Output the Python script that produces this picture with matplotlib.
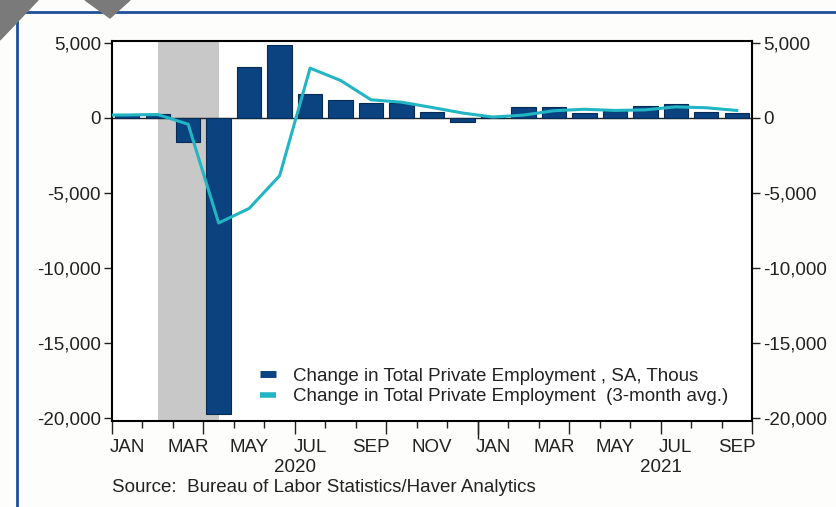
"""Private payroll changes, Jan 2020 - Sep 2021, monthly bars plus 3-month average."""

import matplotlib.pyplot as plt
from matplotlib.lines import Line2D
from matplotlib.patches import Polygon

plt.rcParams["font.family"] = ["Liberation Sans", "DejaVu Sans"]

# Monthly change in total private employment, SA, thousands (Jan 2020 .. Sep 2021)
months = ["JAN", "FEB", "MAR", "APR", "MAY", "JUN", "JUL", "AUG", "SEP", "OCT", "NOV", "DEC",
          "JAN", "FEB", "MAR", "APR", "MAY", "JUN", "JUL", "AUG", "SEP"]
private_chg = [200, 280, -1630, -19730, 3370, 4840, 1600, 1170, 970, 980, 400, -290,
               150, 700, 760, 330, 490, 810, 920, 370, 360]

# 3-month average, starting one month earlier (Dec 2019) so the line runs in from the edge
avg_3m = [190, 200, 230, -420, -7000, -6030, -3850, 3320, 2500, 1210, 1050, 700, 330,
          60, 190, 480, 580, 500, 540, 740, 680, 500]

years = ["2020", "2021"]

BAR = "#0b4280"
BAR_EDGE = "#072a52"
LINE = "#22b5c4"
FRAME = "#1d4f9a"
TXT = "#222222"
FS = 13.5

n = len(months)
x = list(range(n))
x_avg = list(range(-1, n))

fig = plt.figure(figsize=(8.37, 5.07), dpi=100, facecolor="#fdfdfb")

# outer page frame and the grey corner marks
fig.add_artist(Line2D([17 / 837, 1], [1 - 12 / 507] * 2, color=FRAME, lw=2))
fig.add_artist(Line2D([17 / 837] * 2, [0, 1 - 12 / 507], color=FRAME, lw=2))
fig.add_artist(Polygon([(0, 1), (38 / 837, 1), (0, 1 - 40 / 507)],
                       closed=True, color="#7a7a7a", zorder=5))
fig.add_artist(Polygon([(85 / 837, 1), (130 / 837, 1), (110 / 837, 1 - 18 / 507)],
                       closed=True, color="#7a7a7a", zorder=5))

ax = fig.add_axes([112 / 837, 1 - 421 / 507, 640 / 837, 380 / 507])
ax.set_facecolor("white")

# recession shading, Feb to Apr 2020
ax.axvspan(months.index("FEB"), months.index("APR"), color="#c8c8c8", lw=0, zorder=0)
ax.axhline(0, color=TXT, lw=1, zorder=1)

ax.bar(x, private_chg, width=0.8, color=BAR, edgecolor=BAR_EDGE, lw=0.8, zorder=2)
ax.plot(x_avg, avg_3m, color=LINE, lw=2.2, zorder=3, solid_joinstyle="round")

ax.set_xlim(-0.5, n - 0.5)
ax.set_ylim(-20200, 5130)

for s in ax.spines.values():
    s.set_linewidth(1.5)
    s.set_color("black")

# y axis: same scale on both sides
yt = [5000, 0, -5000, -10000, -15000, -20000]
ax.set_yticks(yt)
ax.set_yticklabels([f"{v:,}" for v in yt])
ax.tick_params(axis="y", which="both", left=True, right=True, labelleft=True,
               labelright=True, direction="out", length=6, width=1, labelsize=FS,
               colors=TXT, pad=2)

# x axis: month boundaries, longer ticks at quarter starts
bounds = [i - 0.5 for i in range(n + 1)]
ax.set_xticks([b for i, b in enumerate(bounds) if i % 3 == 0])
ax.set_xticks([b for i, b in enumerate(bounds) if i % 3 != 0], minor=True)
ax.set_xticklabels([])
ax.tick_params(axis="x", which="major", direction="out", length=9, width=1, color=TXT)
ax.tick_params(axis="x", which="minor", direction="out", length=5, width=1, color=TXT)

# year boundary tick
yr_ax = ax.secondary_xaxis("bottom")
yr_ax.set_xticks([11.5])
yr_ax.set_xticklabels([])
yr_ax.tick_params(direction="out", length=13, width=1, color=TXT)
yr_ax.spines["bottom"].set_visible(False)

# month labels centred in each month, every other month
mon_ax = ax.secondary_xaxis("bottom")
mon_ax.set_xticks(x[::2])
mon_ax.set_xticklabels(months[::2])
mon_ax.tick_params(length=0, pad=13, labelsize=FS, colors=TXT)
mon_ax.spines["bottom"].set_visible(False)

# year labels centred in each calendar year
year_ax = ax.secondary_xaxis("bottom")
year_ax.set_xticks([5.5, 17.5])
year_ax.set_xticklabels(years)
year_ax.tick_params(length=0, pad=27, labelsize=FS, colors=TXT)
year_ax.spines["bottom"].set_visible(False)

handles = [Line2D([], [], color=BAR, lw=5, solid_capstyle="butt"),
           Line2D([], [], color=LINE, lw=4, solid_capstyle="butt")]
labels = ["Change in Total Private Employment , SA, Thous",
          "Change in Total Private Employment  (3-month avg.)"]
leg = ax.legend(handles, labels, loc="lower right", bbox_to_anchor=(0.975, 0.022),
                frameon=False, fontsize=FS, handlelength=0.85, handletextpad=0.9,
                labelspacing=0.18, borderaxespad=0.0)
for t in leg.get_texts():
    t.set_color(TXT)

fig.text(112 / 837, 1 - 487 / 507, "Source:  Bureau of Labor Statistics/Haver Analytics",
         fontsize=FS, color=TXT, va="center", ha="left")

fig.savefig("out.png", dpi=100, facecolor=fig.get_facecolor())
